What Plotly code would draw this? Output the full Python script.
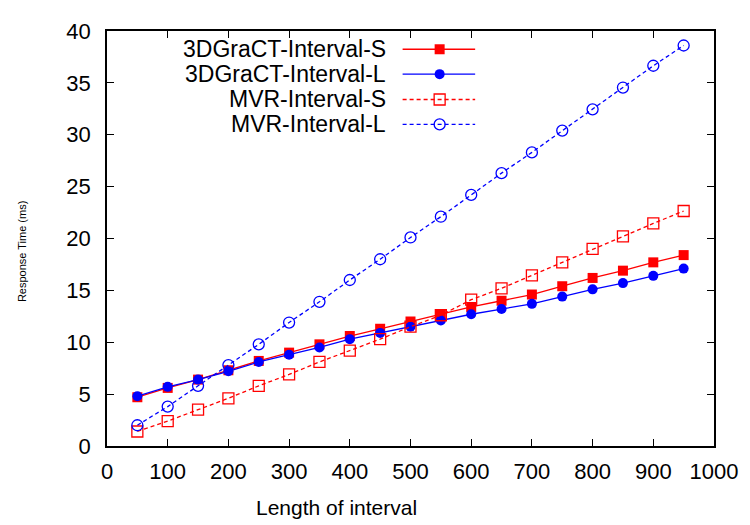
import plotly.graph_objects as go

interval = [50, 100, 150, 200, 250, 300, 350, 400, 450, 500,
            550, 600, 650, 700, 750, 800, 850, 900, 950]

gract_s = [4.7, 5.6, 6.4, 7.3, 8.2, 9.0, 9.8, 10.6, 11.3, 12.0,
           12.7, 13.4, 14.0, 14.6, 15.4, 16.2, 16.9, 17.7, 18.4]
gract_l = [4.8, 5.7, 6.4, 7.2, 8.1, 8.8, 9.5, 10.3, 10.9, 11.5,
           12.1, 12.7, 13.2, 13.7, 14.4, 15.1, 15.7, 16.4, 17.1]
mvr_s = [1.4, 2.4, 3.5, 4.6, 5.8, 6.9, 8.1, 9.2, 10.3, 11.5,
         12.6, 14.1, 15.2, 16.45, 17.7, 19.0, 20.2, 21.45, 22.65]
mvr_l = [2.0, 3.8, 5.8, 7.8, 9.8, 11.9, 13.9, 16.0, 18.0, 20.1,
         22.1, 24.2, 26.3, 28.3, 30.4, 32.45, 34.55, 36.65, 38.6]

x_ticks = [0, 100, 200, 300, 400, 500, 600, 700, 800, 900, 1000]
y_ticks = [0, 5, 10, 15, 20, 25, 30, 35, 40]

series = [
    ("3DGraCT-Interval-S", gract_s, "#ff0000", "square", "solid"),
    ("3DGraCT-Interval-L", gract_l, "#0000ff", "circle", "solid"),
    ("MVR-Interval-S", mvr_s, "#ff0000", "square-open", "4px,3px"),
    ("MVR-Interval-L", mvr_l, "#0000ff", "circle-open", "4px,3px"),
]

FONT = "Liberation Sans, Arial, sans-serif"

fig = go.Figure()
for name, vals, col, sym, dash in series:
    is_open = sym.endswith("open")
    fig.add_trace(go.Scatter(
        x=interval, y=vals, name=name, mode="lines+markers",
        line=dict(color=col, width=1.3, dash=dash),
        marker=dict(symbol=sym, size=10 if not is_open else 11, color=col,
                    line=dict(width=1.3 if is_open else 0, color=col)),
        showlegend=False,
    ))

# manual legend (text right-aligned, key on the right, like gnuplot)
leg_rows = [0.956, 0.896, 0.835, 0.775]
for (name, vals, col, sym, dash), ry in zip(series, leg_rows):
    is_open = sym.endswith("open")
    fig.add_trace(go.Scatter(
        x=[0.487, 0.6065], y=[ry, ry], mode="lines", xaxis="x2", yaxis="y2",
        line=dict(color=col, width=1.3, dash=dash), showlegend=False, hoverinfo="skip"))
    fig.add_trace(go.Scatter(
        x=[0.548], y=[ry], mode="markers", xaxis="x2", yaxis="y2",
        marker=dict(symbol=sym, size=10 if not is_open else 11, color=col,
                    line=dict(width=1.3 if is_open else 0, color=col)),
        showlegend=False, hoverinfo="skip"))
    fig.add_annotation(x=0.4634, y=ry, xref="paper", yref="paper", text=name,
                       showarrow=False, xanchor="right", yanchor="middle",
                       font=dict(family=FONT, size=23, color="black"))

axis_common = dict(
    showline=True, linecolor="black", linewidth=1.5, mirror="ticks",
    ticks="inside", ticklen=7, tickwidth=1.2, tickcolor="black",
    showgrid=False, zeroline=False,
    tickfont=dict(family=FONT, size=22, color="black"),
)

fig.update_layout(
    width=750, height=525,
    margin=dict(l=107, r=28, t=31, b=79),
    paper_bgcolor="white", plot_bgcolor="white",
    xaxis=dict(range=[0, 1000], tickvals=x_ticks, ticktext=[str(v) for v in x_ticks],
               ticklabelstandoff=5, **axis_common),
    yaxis=dict(range=[0, 40], tickvals=y_ticks, ticktext=[str(v) for v in y_ticks],
               ticklabelstandoff=10, **axis_common),
    xaxis2=dict(range=[0, 1], overlaying="x", anchor="y2", visible=False),
    yaxis2=dict(range=[0, 1], overlaying="y", anchor="x2", visible=False),
)

fig.add_annotation(x=(340 - 107) / 615, y=-0.147, xref="paper", yref="paper",
                   text="Length of interval", showarrow=False,
                   xanchor="center", yanchor="middle",
                   font=dict(family=FONT, size=21, color="black"))
fig.add_annotation(x=(21 - 107) / 615, y=(446 - 252) / 415, xref="paper", yref="paper",
                   text="Response Time (ms)", showarrow=False, textangle=-90,
                   xanchor="center", yanchor="middle",
                   font=dict(family=FONT, size=11, color="black"))

fig.write_html("out.html")
